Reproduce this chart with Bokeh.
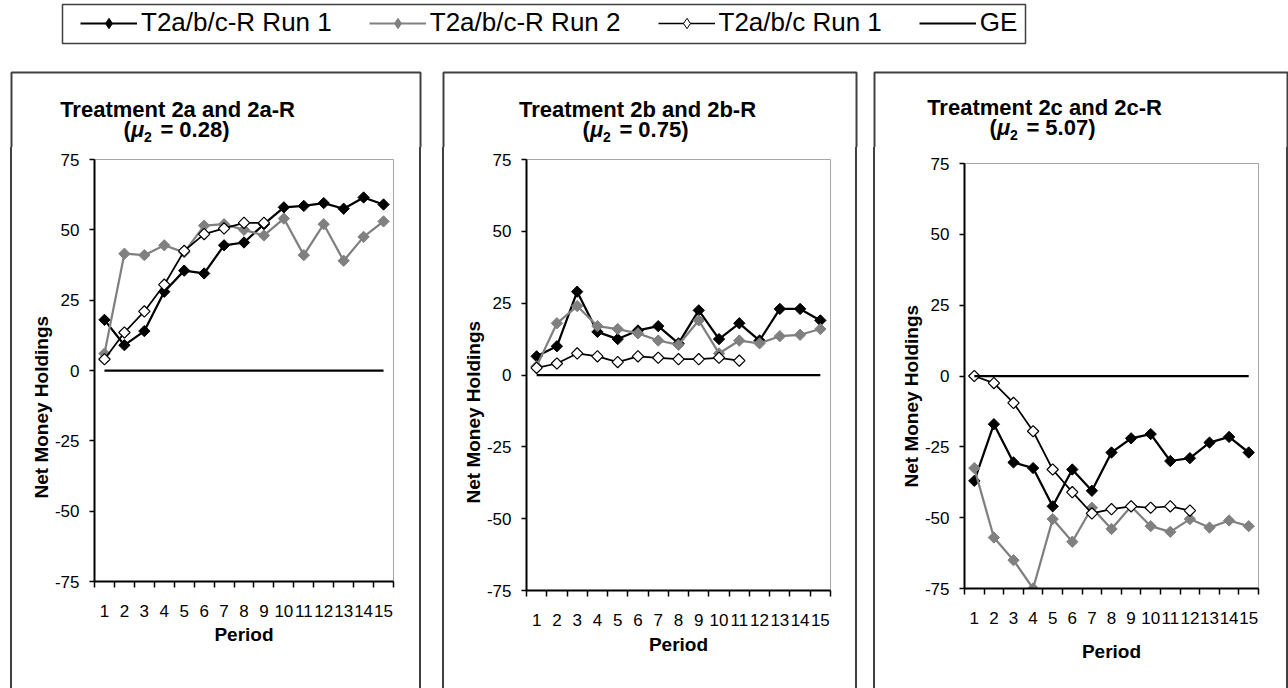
import math

from bokeh.embed import file_html
from bokeh.layouts import column, row
from bokeh.models import (BoxAnnotation, ColumnDataSource, FixedTicker, Label,
                          Legend, LegendItem, Range1d, Spacer, Title)
from bokeh.plotting import figure
from bokeh.resources import INLINE

# ---------------------------------------------------------------- data
periods = [1, 2, 3, 4, 5, 6, 7, 8, 9, 10, 11, 12, 13, 14, 15]
y_ticks = [-75, -50, -25, 0, 25, 50, 75]

# general-equilibrium benchmark (net money holdings of zero)
ge = [0, 0, 0, 0, 0, 0, 0, 0, 0, 0, 0, 0, 0, 0, 0]

# Treatment 2a and 2a-R (mu2 = 0.28)
t2a_r_run1 = [18, 9, 14, 28, 35.5, 34.5, 44.5, 45.5, 52, 58, 58.5, 59.5, 57.5, 61.5, 59]
t2a_r_run2 = [6, 41.5, 41, 44.5, 42, 51.5, 52, 50, 48, 54, 41, 52, 39, 47.5, 53]
t2a_run1 = [4, 13.5, 21, 30.5, 42.5, 48.5, 50.5, 52.5, 52.5]

# Treatment 2b and 2b-R (mu2 = 0.75)
t2b_r_run1 = [6.5, 10, 29, 15, 12.5, 15.5, 17, 11, 22.5, 12.5, 18, 12, 23, 23, 19]
t2b_r_run2 = [3, 18, 24, 17, 16, 14.5, 12, 10.5, 19, 7.5, 12, 11, 13.5, 14, 16]
t2b_run1 = [2.5, 4, 7.5, 6.5, 4.5, 6.5, 6, 5.5, 5.5, 6, 5]

# Treatment 2c and 2c-R (mu2 = 5.07)
t2c_r_run1 = [-37, -17, -30.5, -32.5, -46, -33, -40.5, -27, -22, -20.5, -30, -29, -23.5, -21.5, -27]
t2c_r_run2 = [-32.5, -57, -65, -75, -50.5, -58.5, -46.5, -54, -46, -53, -55, -50.5, -53.5, -51, -53]
t2c_run1 = [0, -2.5, -9.5, -19.5, -33, -41, -48.5, -47, -46, -46.5, -46, -47.5]

titles = ["Treatment 2a and 2a-R", "Treatment 2b and 2b-R", "Treatment 2c and 2c-R"]
mu_values = ["0.28", "0.75", "5.07"]
legend_labels = ["T2a/b/c-R Run 1", "T2a/b/c-R Run 2", "T2a/b/c Run 1", "GE"]

# ---------------------------------------------------------------- style
FONT = "Liberation Sans"
GRAY = "#808080"
BORDER = "#404040"
PAGE_W = 1288
PAGE_H = 688
HEAD_H = 147      # legend strip + panel headings
BOX_TOP = 71      # top edge of the three chart areas
BW = 2            # chart-area border width

# page geometry of each panel: left edge, width, plot-area box (l, r, t, b),
# heading baselines, start of the vertical axis title, gap above "Period"
layouts = [
    dict(x0=10, w=411, frame=(94, 393, 159, 581),
         t1=(177, 117), t2=(176, 137), ystart=498, xstand=4),
    dict(x0=442, w=415, frame=(526, 830, 159, 590),
         t1=(637, 117), t2=(635, 137), ystart=503, xstand=5),
    dict(x0=873, w=415, frame=(964, 1258, 163, 588),
         t1=(1044, 115), t2=(1042, 135), ystart=487, xstand=14),
]
series = [
    (t2a_r_run1, t2a_r_run2, t2a_run1),
    (t2b_r_run1, t2b_r_run2, t2b_run1),
    (t2c_r_run1, t2c_r_run2, t2c_run1),
]


def screen_box(left, right, top, bottom, **kw):
    return BoxAnnotation(left=left, right=right, top=top, bottom=bottom,
                         left_units="screen", right_units="screen",
                         top_units="screen", bottom_units="screen",
                         fill_alpha=0, line_alpha=1, **kw)


# ---------------------------------------------------------------- heading strip
head = figure(width=PAGE_W, height=HEAD_H, output_backend="svg", toolbar_location=None,
              x_range=Range1d(0, 1), y_range=Range1d(0, 1),
              x_axis_location=None, y_axis_location=None,
              min_border=0, outline_line_color=None)
head.grid.visible = False


def head_text(s, X, baseline, size, style, align):
    # labels are anchored on the middle of the text box; shift from the baseline
    mid = baseline - 0.3465 * size
    head.add_layout(Label(x=X, y=HEAD_H - mid, x_units="screen", y_units="screen",
                          text=s, text_font=FONT, text_color="black",
                          text_font_size=f"{size}px", text_font_style=style,
                          text_align=align, text_baseline="middle"))


# legend
proxy = ColumnDataSource(dict(x=[float("nan")], y=[float("nan")]))
r1l = head.line("x", "y", source=proxy, line_color="black", line_width=2)
r1m = head.scatter("x", "y", source=proxy, marker="diamond", fill_color="black", line_color="black")
r2l = head.line("x", "y", source=proxy, line_color=GRAY, line_width=2)
r2m = head.scatter("x", "y", source=proxy, marker="diamond", fill_color=GRAY, line_color=GRAY)
r3l = head.line("x", "y", source=proxy, line_color="black", line_width=1.5)
r3m = head.scatter("x", "y", source=proxy, marker="diamond", fill_color="white", line_color="black")
r4l = head.line("x", "y", source=proxy, line_color="black", line_width=2)

legend = Legend(
    items=[LegendItem(label=legend_labels[0], renderers=[r1l, r1m]),
           LegendItem(label=legend_labels[1], renderers=[r2l, r2m]),
           LegendItem(label=legend_labels[2], renderers=[r3l, r3m]),
           LegendItem(label=legend_labels[3], renderers=[r4l])],
    orientation="horizontal", location=(75, HEAD_H - 43), padding=5, spacing=37,
    glyph_width=57, glyph_height=26, label_standoff=4, margin=0,
    label_text_font=FONT, label_text_font_size="26px", label_text_color="black",
    border_line_alpha=0, background_fill_alpha=0)
head.add_layout(legend)
head.add_layout(screen_box(62, 1025, HEAD_H - 4, HEAD_H - 43,
                           line_color=BORDER, line_width=1.5))

# panel headings and the upper part of each chart-area border
for title, mu, lay in zip(titles, mu_values, layouts):
    tx, ty = lay["t1"]
    head_text(title, tx, ty, 22, "bold", "center")
    cx, cy = lay["t2"]
    left, right = cx - 53, cx + 53
    head_text("(", left, cy, 22, "bold", "left")
    head_text("\u03bc", left + 7.5, cy, 22, "bold italic", "left")
    head_text("2", left + 20.5, cy + 4, 14, "bold", "left")
    head_text("= " + mu + ")", right, cy, 22, "bold", "right")
    head.add_layout(screen_box(lay["x0"] + BW / 2, lay["x0"] + lay["w"] - BW / 2,
                               HEAD_H - BOX_TOP - BW / 2, -20,
                               line_color=BORDER, line_width=BW))


# ---------------------------------------------------------------- charts
def diamond(p, xs, ys, fill, line, lw=1.0):
    p.scatter(xs, ys, marker="square", angle=math.pi / 4, size=8,
              fill_color=fill, line_color=line, line_width=lw)


def make_panel(data, lay):
    fl, fr, ft, fb = lay["frame"]
    inner_l = lay["x0"] + BW
    inner_w = lay["w"] - 2 * BW
    body_h = PAGE_H - HEAD_H

    p = figure(width=inner_w, height=body_h, output_backend="svg",
               toolbar_location=None,
               x_range=Range1d(0.5, 15.5), y_range=Range1d(-75, 75),
               min_border_left=fl - inner_l, min_border_right=inner_l + inner_w - fr,
               min_border_top=ft - HEAD_H, min_border_bottom=PAGE_H - fb,
               outline_line_color="#a6a6a6", outline_line_width=1,
               background_fill_color="white", border_fill_color="white")
    p.grid.visible = False

    xa = p.xaxis[0]
    xa.ticker = FixedTicker(ticks=periods,
                            minor_ticks=[k + 0.5 for k in range(0, 16)])
    xa.major_tick_out = 0
    xa.major_tick_in = 0
    xa.minor_tick_out = 6
    xa.minor_tick_in = 0
    xa.minor_tick_line_color = "black"
    xa.minor_tick_line_width = 1.5
    xa.axis_line_color = "black"
    xa.axis_line_width = 2
    xa.major_label_standoff = 17
    xa.major_label_text_font = FONT
    xa.major_label_text_font_size = "17px"
    xa.major_label_text_color = "black"
    xa.axis_label = "Period"
    xa.axis_label_standoff = lay["xstand"]
    xa.axis_label_text_font = FONT
    xa.axis_label_text_font_size = "19px"
    xa.axis_label_text_font_style = "bold"
    xa.axis_label_text_color = "black"

    ya = p.yaxis[0]
    ya.ticker = FixedTicker(ticks=y_ticks)
    ya.major_label_overrides = {t: str(t) for t in y_ticks}
    ya.major_tick_out = 5
    ya.major_tick_in = 0
    ya.minor_tick_out = 0
    ya.minor_tick_in = 0
    ya.major_tick_line_color = "black"
    ya.major_tick_line_width = 1.5
    ya.axis_line_color = "black"
    ya.axis_line_width = 2
    ya.major_label_standoff = 10
    ya.major_label_text_font = FONT
    ya.major_label_text_font_size = "17px"
    ya.major_label_text_color = "black"

    p.add_layout(Title(text="Net Money Holdings", align="left",
                       offset=fb - lay["ystart"], standoff=0,
                       text_font=FONT, text_font_size="19px",
                       text_font_style="bold", text_color="black"), "left")

    run1, run2, base = data
    x1 = periods[:len(run1)]
    x2 = periods[:len(run2)]
    xb = periods[:len(base)]

    p.line(x1, run1, line_color="black", line_width=2.25)
    diamond(p, x1, run1, "black", "black")
    p.line(x2, run2, line_color=GRAY, line_width=2.25)
    diamond(p, x2, run2, GRAY, GRAY)
    p.line(xb, base, line_color="black", line_width=1.75)
    diamond(p, xb, base, "white", "black", 1.2)
    p.line(periods, ge, line_color="black", line_width=2.25)

    # side edges of the chart-area border below the heading strip
    edge = {"background-color": BORDER}
    return row(Spacer(width=BW, height=body_h, styles=edge), p,
               Spacer(width=BW, height=body_h, styles=edge))


panels = [make_panel(d, lay) for d, lay in zip(series, layouts)]

body_h = PAGE_H - HEAD_H
page = column(
    head,
    row(Spacer(width=10, height=body_h), panels[0],
        Spacer(width=21, height=body_h), panels[1],
        Spacer(width=16, height=body_h), panels[2]),
)

open("out.html", "w").write(file_html(page, INLINE))
